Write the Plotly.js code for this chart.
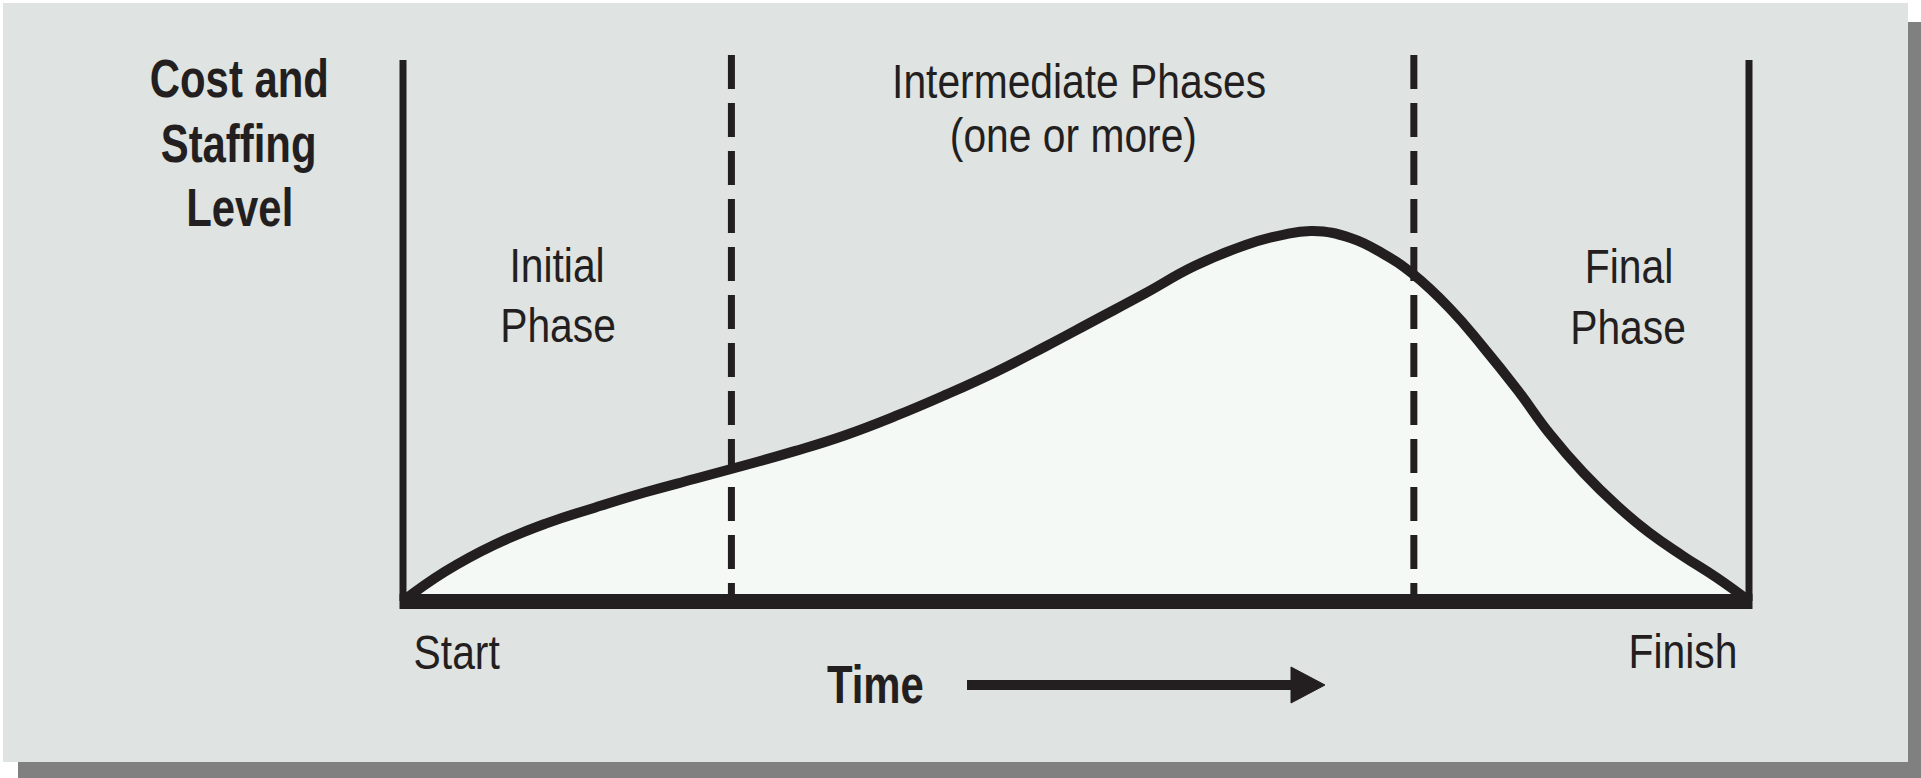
<!DOCTYPE html>
<html>
<head>
<meta charset="utf-8">
<script src="https://cdn.plot.ly/plotly-3.0.1.min.js"></script>
<style>
  html, body { margin: 0; padding: 0; background: #ffffff; }
  #chart { width: 1921px; height: 778px; }
</style>
</head>
<body>
<div id="chart"></div>
<script>
// ---------- DATA ----------
// Time as % of project duration (Start = 0, Finish = 100)
const timePct = [0, 3.1, 6.8, 10.6, 14.3, 18.0, 21.7, 25.4, 29.1, 32.8, 36.6, 40.3, 44.0, 47.7, 51.4, 55.1, 58.8, 62.6, 65.2, 67.6, 70.4, 72.8, 75.0, 77.8, 80.2, 82.8, 85.2, 87.7, 90.2, 92.6, 95.1, 97.6, 100];
// Relative cost and staffing level (0 = none, 100 = top of axis)
const costLevel = [0, 5.4, 10.4, 14.3, 17.3, 20.1, 22.6, 25.1, 27.7, 30.6, 34.2, 38.1, 42.3, 47.0, 51.9, 56.8, 61.9, 65.8, 67.6, 68.4, 67.1, 64.2, 60.5, 54.0, 47.1, 39.0, 30.9, 23.7, 17.6, 12.6, 8.3, 4.3, 0];
// Phase boundaries on the time axis
const phaseBoundaries = [24.4, 75.1];
// Text labels
const yAxisLabel = ["Cost and", "Staffing", "Level"];
const initialLabel = ["Initial", "Phase"];
const intermediateLabel = ["Intermediate Phases", "(one or more)"];
const finalLabel = ["Final", "Phase"];
const endLabels = ["Start", "Finish"];
const xAxisLabel = "Time";

// ---------- GEOMETRY ----------
const W = 1921, H = 778;
const PL = 363, PR = 1789, PT = 40, PB = 640;   // plot area in pixels
const X0PX = 403, X100PX = 1749;                // pixel of time 0 and 100
const Y0PX = 601, Y100PX = 60;                  // pixel of level 0 and 100
const kx = (X100PX - X0PX) / 100;
const ky = (Y0PX - Y100PX) / 100;
const xRange = [(PL - X0PX) / kx, (PR - X0PX) / kx];
const yRange = [(Y0PX - PB) / ky, (Y0PX - PT) / ky];
const px = p => (p - PL) / (PR - PL);           // pixel -> paper x
const py = p => (PB - p) / (PB - PT);           // pixel -> paper y

const INK = '#231F20';
const FONT = '"Liberation Sans", Arial, sans-serif';

// ---------- TRACES ----------
const curve = {
  type: 'scatter', mode: 'lines',
  x: timePct, y: costLevel,
  line: { color: INK, width: 10, shape: 'spline', smoothing: 1.3 },
  fill: 'tozeroy', fillcolor: '#F5F9F6',
  hoverinfo: 'skip', showlegend: false
};

// ---------- SHAPES ----------
const shapes = [];
// drop shadow and panel
shapes.push({ type: 'rect', xref: 'paper', yref: 'paper', layer: 'below',
  x0: px(18), x1: px(1921), y0: py(22), y1: py(778), fillcolor: '#808080', line: { width: 0 } });
shapes.push({ type: 'rect', xref: 'paper', yref: 'paper', layer: 'below',
  x0: px(3), x1: px(1908), y0: py(3), y1: py(762), fillcolor: '#DFE3E1', line: { width: 0 } });
// phase boundaries (dashed)
phaseBoundaries.forEach(b => {
  shapes.push({ type: 'line', xref: 'x', yref: 'y', layer: 'above',
    x0: b, x1: b, y0: (Y0PX - 55) / ky, y1: 1.3,
    line: { color: INK, width: 7, dash: '34px,14px' } });
});
// vertical axis lines at start and finish
[0, 100].forEach(v => {
  shapes.push({ type: 'line', xref: 'x', yref: 'y', layer: 'above',
    x0: v, x1: v, y0: 0, y1: 100, line: { color: INK, width: 7 } });
});
// baseline
shapes.push({ type: 'line', xref: 'x', yref: 'y', layer: 'above',
  x0: -3.5 / kx, x1: 100 + 3.5 / kx, y0: -0.1, y1: -0.1, line: { color: INK, width: 15 } });
// time arrow
shapes.push({ type: 'line', xref: 'paper', yref: 'paper', layer: 'above',
  x0: px(967), x1: px(1296), y0: py(685), y1: py(685), line: { color: INK, width: 10 } });
shapes.push({ type: 'path', xref: 'paper', yref: 'paper', layer: 'above',
  path: `M ${px(1291)} ${py(667)} L ${px(1325)} ${py(685)} L ${px(1291)} ${py(703)} Z`,
  fillcolor: INK, line: { color: INK, width: 1 } });

// ---------- ANNOTATIONS ----------
const REG = 48, BOLD = 53;       // font sizes
const REG_W = 0.85, BOLD_W = 0.79; // horizontal condensing of the type
const labelSpecs = [];
function label(text, cx, cy, bold) {
  labelSpecs.push(bold ? BOLD_W : REG_W);
  return { text: bold ? '<b>' + text + '</b>' : text, xref: 'paper', yref: 'paper',
    x: px(cx), y: py(cy), xanchor: 'center', yanchor: 'middle', showarrow: false,
    font: { family: FONT, size: bold ? BOLD : REG, color: INK } };
}
const annotations = [
  label(yAxisLabel[0], 239, 78, true),
  label(yAxisLabel[1], 238, 143, true),
  label(yAxisLabel[2], 240, 207, true),
  label(initialLabel[0], 557, 265, false),
  label(initialLabel[1], 558, 325, false),
  label(intermediateLabel[0], 1079, 81, false),
  label(intermediateLabel[1], 1073, 135, false),
  label(finalLabel[0], 1629, 266, false),
  label(finalLabel[1], 1628, 327, false),
  label(endLabels[0], 456, 652, false),
  label(endLabels[1], 1683, 651, false),
  label(xAxisLabel, 875, 684, true)
];

const layout = {
  width: W, height: H, autosize: false,
  margin: { l: PL, r: W - PR, t: PT, b: H - PB, pad: 0 },
  paper_bgcolor: '#ffffff', plot_bgcolor: 'rgba(0,0,0,0)',
  xaxis: { range: xRange, visible: false, fixedrange: true },
  yaxis: { range: yRange, visible: false, fixedrange: true },
  shapes: shapes, annotations: annotations, showlegend: false
};

Plotly.newPlot('chart', [curve], layout, { staticPlot: true, displayModeBar: false })
  .then(gd => {
    // condense the lettering horizontally around each label's centre
    gd.querySelectorAll('g.annotation').forEach(g => {
      const i = +g.getAttribute('data-index');
      const t = g.querySelector('text.annotation-text');
      if (!t || isNaN(i)) return;
      const bb = t.getBBox();
      const cx = bb.x + bb.width / 2;
      const s = labelSpecs[i];
      const prev = t.getAttribute('transform') || '';
      t.setAttribute('transform', `${prev} translate(${cx},0) scale(${s},1) translate(${-cx},0)`);
    });
  });
</script>
</body>
</html>
